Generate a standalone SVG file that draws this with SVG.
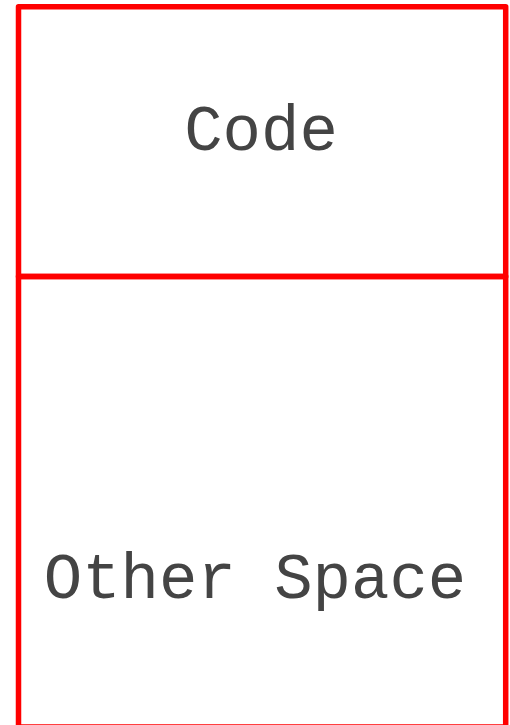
<svg xmlns="http://www.w3.org/2000/svg" width="510" height="725" viewBox="0 0 510 725">
<style>
.box{fill:none;stroke:#ff0000;stroke-width:5.5;stroke-linejoin:round}
.lbl{font-family:"Courier New",Courier,"Nimbus Mono PS","FreeMono","Liberation Mono",monospace;font-size:64px;fill:#444444;text-anchor:middle}
</style>
<rect x="0" y="0" width="510" height="725" fill="#ffffff"/>
<g id="code">
<rect class="box" x="18.5" y="6.7" width="487.2" height="269.8"/>
<text class="lbl" x="261" y="150">Code</text>
</g>
<g id="other-space">
<rect class="box" x="18.5" y="276.5" width="487.2" height="450.5"/>
<text class="lbl" x="255" y="598">Other Space</text>
</g>
<g id="connectors"></g>
</svg>
